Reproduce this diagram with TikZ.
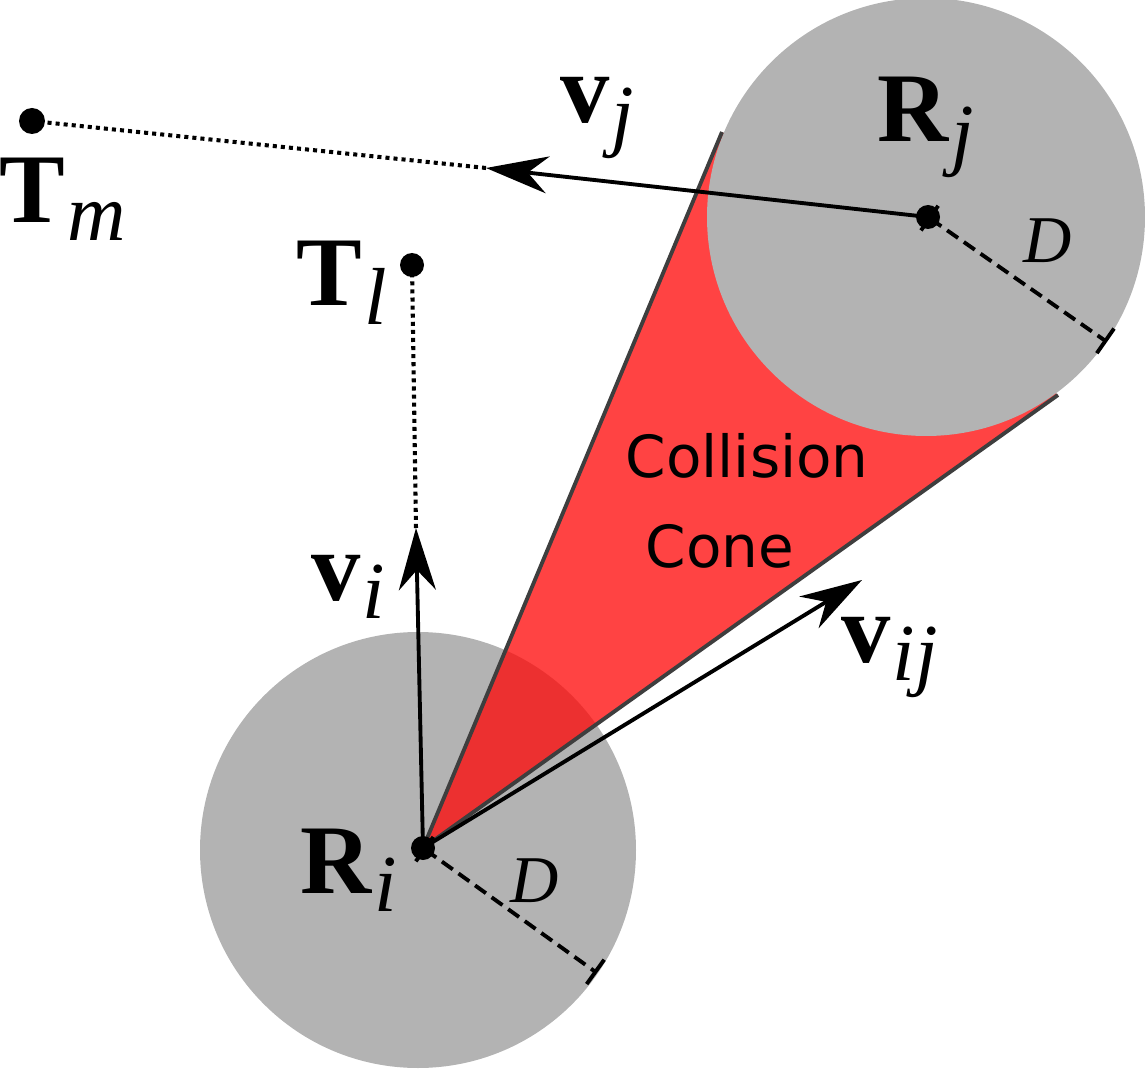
\documentclass[tikz,border=0pt]{standalone}
\usepackage{fontspec}
\setmainfont{Liberation Serif}
\newfontfamily\conefont{DejaVu Sans}
\usetikzlibrary{arrows.meta}

\definecolor{robotgray}{RGB}{179,179,179}
\definecolor{conered}{RGB}{255,8,8}
\definecolor{coneline}{RGB}{62,62,62}

\newcommand{\sublbl}[2]{\fontsize{28}{30}\selectfont\textbf{#1}\kern0.02cm\raisebox{-0.18cm}{\fontsize{23}{24}\selectfont\itshape #2}}

\begin{document}
\begin{tikzpicture}[x=0.01cm,y=-0.01cm,
  robot/.style={fill=robotgray},
  vel/.style={line width=1.1pt,-{Stealth[length=0.62cm,width=0.37cm,inset=0.2cm]}},
  route/.style={line width=1.15pt,dash pattern=on 1.15pt off 1.15pt},
  radline/.style={line width=1.1pt,dash pattern=on 3.8pt off 2pt,{Bar[width=0.3cm]}-{Bar[width=0.3cm]}},
  lbl/.style={inner sep=0pt,anchor=base west},
  dlbl/.style={inner sep=0pt,anchor=base west,font=\fontsize{19}{21}\selectfont\itshape},
  conelbl/.style={inner sep=0pt,anchor=base west,font=\conefont\fontsize{16.5}{18}\selectfont}]
\useasboundingbox (0,0) rectangle (1145,1070);

% points
\coordinate (Ri) at (423,848);
\coordinate (Rj) at (928,217);
\coordinate (Tm) at (32,121);
\coordinate (Tl) at (412,265);
\coordinate (conetop) at (722,132);
\coordinate (coneright) at (1058,395);
\coordinate (vitip) at (416,528);
\coordinate (vjtip) at (486,168);
\coordinate (vijtip) at (862,580);
\coordinate (Diend) at (597,973);
\coordinate (Djend) at (1107,342);

% robots and cone
\fill [robot] (418,850) circle (218);
\fill [conered,opacity=0.76] (Ri) -- (conetop) -- (coneright) -- cycle;
\fill [robot] (926,217) circle (219);
\draw [coneline,line width=1.1pt] (conetop) -- (Ri) -- (coneright);

% radii
\draw [radline] (Ri) -- (Diend);
\draw [radline] (Rj) -- (Djend);

% velocities and routes
\draw [route] (vitip) -- (Tl);
\draw [route] (vjtip) -- (Tm);
\draw [vel] (Ri) -- (vitip);
\draw [vel] (Rj) -- (vjtip);
\draw [vel] (Ri) -- (vijtip);

\fill (Ri) circle (12);
\fill (Rj) circle (12);
\fill (Tm) circle (13);
\fill (Tl) circle (12);

% labels
\node [lbl] (Rilbl) at (300,893) {\sublbl{R}{i}};
\node [lbl] (Rjlbl) at (877,142) {\sublbl{R}{j}};
\node [lbl] (vilbl) at (311,600) {\sublbl{v}{i}};
\node [lbl] (vjlbl) at (560,123) {\sublbl{v}{j}};
\node [lbl] (vijlbl) at (841,662) {\sublbl{v}{ij}};
\node [lbl] (Tmlbl) at (-1,222) {\sublbl{T}{m}};
\node [lbl] (Tllbl) at (296,306) {\sublbl{T}{l}};
\node [dlbl] (Dilbl) at (510,902) {D};
\node [dlbl] (Djlbl) at (1023,263) {D};
\node [conelbl] (collbl) at (625,477) {Collision};
\node [conelbl] (conelbl) at (645,567) {Cone};
\end{tikzpicture}
\end{document}
